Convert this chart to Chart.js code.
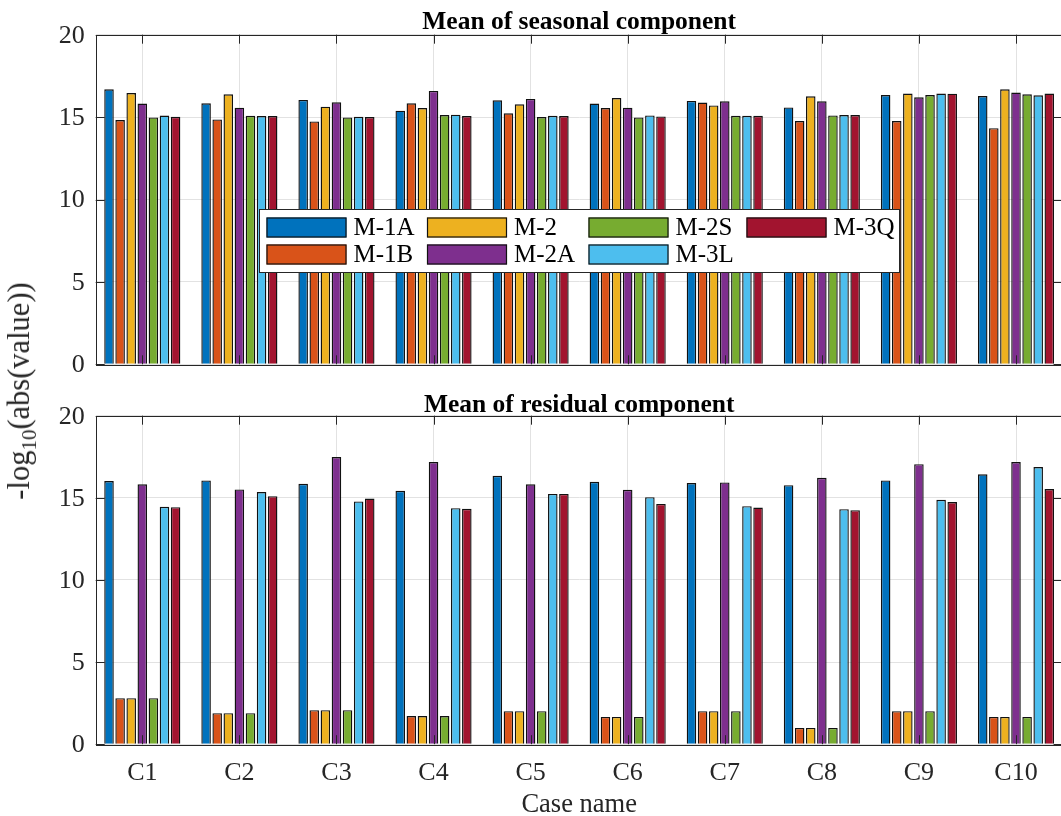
<!DOCTYPE html>
<html>
<head>
<meta charset="utf-8">
<script src="https://cdn.jsdelivr.net/npm/chart.js@4.4.1/dist/chart.umd.min.js"></script>
<style>
  html, body { margin: 0; padding: 0; background: #fff; overflow: hidden; }
  #wrap { position: relative; width: 1061px; height: 816px; overflow: hidden; background: #fff; }
  #top { position: absolute; left: 0; top: 0; }
  #bot { position: absolute; left: 0; top: 380px; }
  #ylab {
    position: absolute; left: 22px; top: 391px;
    transform: translate(-50%, -50%) rotate(-90deg);
    font: 30.5px 'Liberation Serif', 'Times New Roman', serif;
    color: #262626; white-space: nowrap; line-height: 1;
  }
  #ylab sub { font-size: 21px; line-height: 1; vertical-align: -7px; }
</style>
</head>
<body>
<div id="wrap">
  <canvas id="top" width="1064" height="392"></canvas>
  <canvas id="bot" width="1064" height="442"></canvas>
  <div id="ylab">-log<sub>10</sub>(abs(value))</div>
</div>
<script>
// Case names along the x axis
const categories = ['C1', 'C2', 'C3', 'C4', 'C5', 'C6', 'C7', 'C8', 'C9', 'C10'];
const methods = ['M-1A', 'M-1B', 'M-2', 'M-2A', 'M-2S', 'M-3L', 'M-3Q'];
const methodColors = ['#0072BD', '#D95319', '#EDB120', '#7E2F8E', '#77AC30', '#4DBEEE', '#A2142F'];
const yTicks = [0, 5, 10, 15, 20];

// Mean of seasonal component, -log10(abs(value))
const seasonal_M1A = [16.69, 15.84, 16.04, 15.39, 16.02, 15.82, 15.98, 15.59, 16.34, 16.28];
const seasonal_M1B = [14.82, 14.86, 14.74, 15.84, 15.23, 15.55, 15.88, 14.76, 14.76, 14.33];
const seasonal_M2  = [16.46, 16.38, 15.63, 15.55, 15.78, 16.16, 15.71, 16.26, 16.43, 16.69];
const seasonal_M2A = [15.82, 15.57, 15.90, 16.59, 16.10, 15.57, 15.96, 15.96, 16.20, 16.49];
const seasonal_M2S = [14.98, 15.08, 14.98, 15.12, 15.00, 14.98, 15.08, 15.10, 16.34, 16.38];
const seasonal_M3L = [15.09, 15.06, 15.02, 15.15, 15.08, 15.10, 15.08, 15.12, 16.43, 16.32];
const seasonal_M3Q = [15.02, 15.06, 15.00, 15.06, 15.06, 15.04, 15.08, 15.12, 16.42, 16.43];

// Mean of residual component, -log10(abs(value))
const residual_M1A = [16.02, 16.06, 15.85, 15.43, 16.34, 15.98, 15.90, 15.77, 16.06, 16.43];
const residual_M1B = [2.80, 1.89, 2.07, 1.71, 2.01, 1.66, 2.01, 0.99, 2.01, 1.66];
const residual_M2  = [2.80, 1.89, 2.07, 1.71, 2.01, 1.66, 2.01, 0.99, 2.01, 1.66];
const residual_M2A = [15.82, 15.51, 17.48, 17.18, 15.82, 15.49, 15.94, 16.22, 17.05, 17.18];
const residual_M2S = [2.80, 1.89, 2.07, 1.71, 2.01, 1.66, 2.01, 0.99, 2.01, 1.66];
const residual_M3L = [14.45, 15.35, 14.78, 14.37, 15.24, 15.04, 14.49, 14.31, 14.88, 16.87];
const residual_M3Q = [14.43, 15.10, 14.96, 14.33, 15.24, 14.63, 14.41, 14.25, 14.74, 15.53];

const seasonalSeries = [seasonal_M1A, seasonal_M1B, seasonal_M2, seasonal_M2A, seasonal_M2S, seasonal_M3L, seasonal_M3Q];
const residualSeries = [residual_M1A, residual_M1B, residual_M2, residual_M2A, residual_M2S, residual_M3L, residual_M3Q];

const SERIF = "'Liberation Serif', 'Times New Roman', serif";
Chart.defaults.font.family = SERIF;
Chart.defaults.font.size = 26;
Chart.defaults.color = '#262626';

const GRID = '#e2e2e2';
const AXIS = '#262626';
const TICK_LEN = 9;

function makeDatasets(series) {
  return series.map((vals, i) => ({
    label: methods[i],
    data: vals.map((v, j) => ({ x: j + 1, y: v })),
    backgroundColor: methodColors[i],
    borderColor: '#111',
    borderWidth: 1.4,
    categoryPercentage: 0.8,
    barPercentage: 0.86
  }));
}

// Box around the axes with inward tick marks on all four sides
const framePlugin = {
  id: 'frame',
  afterDatasetsDraw(chart) {
    const { ctx, chartArea: ca, scales } = chart;
    ctx.save();
    ctx.strokeStyle = AXIS;
    ctx.lineWidth = 1;
    ctx.beginPath();
    scales.y.ticks.forEach(t => {
      const py = Math.round(scales.y.getPixelForValue(t.value)) + 0.5;
      ctx.moveTo(ca.left, py); ctx.lineTo(ca.left + TICK_LEN, py);
      ctx.moveTo(ca.right, py); ctx.lineTo(ca.right - TICK_LEN, py);
    });
    scales.x.ticks.forEach(t => {
      const px = Math.round(scales.x.getPixelForValue(t.value)) + 0.5;
      ctx.moveTo(px, ca.bottom); ctx.lineTo(px, ca.bottom - TICK_LEN);
      ctx.moveTo(px, ca.top); ctx.lineTo(px, ca.top + TICK_LEN);
    });
    ctx.stroke();
    ctx.strokeRect(Math.round(ca.left) + 0.5, Math.round(ca.top) + 0.5,
                   Math.round(ca.width), Math.round(ca.height));
    ctx.restore();
  }
};

// Boxed legend, two rows filled column by column
const boxLegendPlugin = {
  id: 'boxLegend',
  afterDraw(chart) {
    const { ctx } = chart;
    const box = { x: 259, y: 209, w: 640, h: 63 };
    const colX = [266.5, 427, 588.5, 746.5];
    const rowY = [217.5, 244.5];
    const sw = 80, sh = 20;
    ctx.save();
    ctx.fillStyle = '#fff';
    ctx.fillRect(box.x, box.y, box.w, box.h);
    ctx.strokeStyle = AXIS;
    ctx.lineWidth = 1;
    ctx.strokeRect(box.x + 0.5, box.y + 0.5, box.w, box.h);
    ctx.font = '25px ' + SERIF;
    ctx.textBaseline = 'middle';
    ctx.textAlign = 'left';
    chart.data.datasets.forEach((ds, i) => {
      const c = Math.floor(i / 2), r = i % 2;
      const x = colX[c], y = rowY[r];
      ctx.fillStyle = ds.backgroundColor;
      ctx.fillRect(x, y, sw, sh);
      ctx.strokeStyle = '#111';
      ctx.lineWidth = 1.2;
      ctx.strokeRect(x + 0.5, y + 0.5, sw - 1, sh - 1);
      ctx.fillStyle = '#000';
      ctx.fillText(ds.label, x + sw + 7, y + sh / 2 + 1);
    });
    ctx.restore();
  }
};

function xScale(showLabels) {
  const s = {
    type: 'linear',
    min: 0.52,
    max: 10.48,
    offset: false,
    grid: { offset: false, color: GRID, drawTicks: false },
    border: { display: false },
    afterBuildTicks: sc => { sc.ticks = categories.map((c, i) => ({ value: i + 1 })); },
    ticks: {
      display: showLabels,
      padding: 13,
      maxRotation: 0,
      autoSkip: false,
      color: AXIS,
      callback: v => categories[Math.round(v) - 1]
    }
  };
  if (showLabels) {
    s.title = { display: true, text: 'Case name', color: AXIS, font: { size: 26.5 }, padding: { top: 0, bottom: 0 } };
    s.afterFit = sc => { sc.height = 76.7; };
  } else {
    // leaves room below the axes for the lowest y tick label
    s.afterFit = sc => { sc.height = 27.7; };
  }
  return s;
}

function yScale() {
  return {
    min: 0,
    max: 20,
    afterBuildTicks: sc => { sc.ticks = yTicks.map(v => ({ value: v })); },
    ticks: { padding: 11, color: AXIS, labelOffset: 1 },
    grid: { color: GRID, drawTicks: false },
    border: { display: false },
    afterFit: sc => { sc.width = 95.7; }
  };
}

new Chart(document.getElementById('top'), {
  type: 'bar',
  data: { datasets: makeDatasets(seasonalSeries) },
  options: {
    responsive: false,
    animation: false,
    layout: { padding: { left: 0, right: 1.4, top: 0, bottom: 0 } },
    plugins: {
      legend: { display: false },
      tooltip: { enabled: false },
      title: {
        display: true, text: 'Mean of seasonal component', fullSize: false, color: '#000',
        font: { size: 25.5, weight: 'bold', lineHeight: 1 }, padding: { top: 9.25, bottom: -0.05 }
      }
    },
    scales: { x: xScale(false), y: yScale() }
  },
  plugins: [framePlugin, boxLegendPlugin]
});

new Chart(document.getElementById('bot'), {
  type: 'bar',
  data: { datasets: makeDatasets(residualSeries) },
  options: {
    responsive: false,
    animation: false,
    layout: { padding: { left: 0, right: 1.4, top: 0, bottom: 1.1 } },
    plugins: {
      legend: { display: false },
      tooltip: { enabled: false },
      title: {
        display: true, text: 'Mean of residual component', fullSize: false, color: '#000',
        font: { size: 25.5, weight: 'bold', lineHeight: 1 }, padding: { top: 12.25, bottom: -2.05 }
      }
    },
    scales: { x: xScale(true), y: yScale() }
  },
  plugins: [framePlugin]
});
</script>
</body>
</html>
